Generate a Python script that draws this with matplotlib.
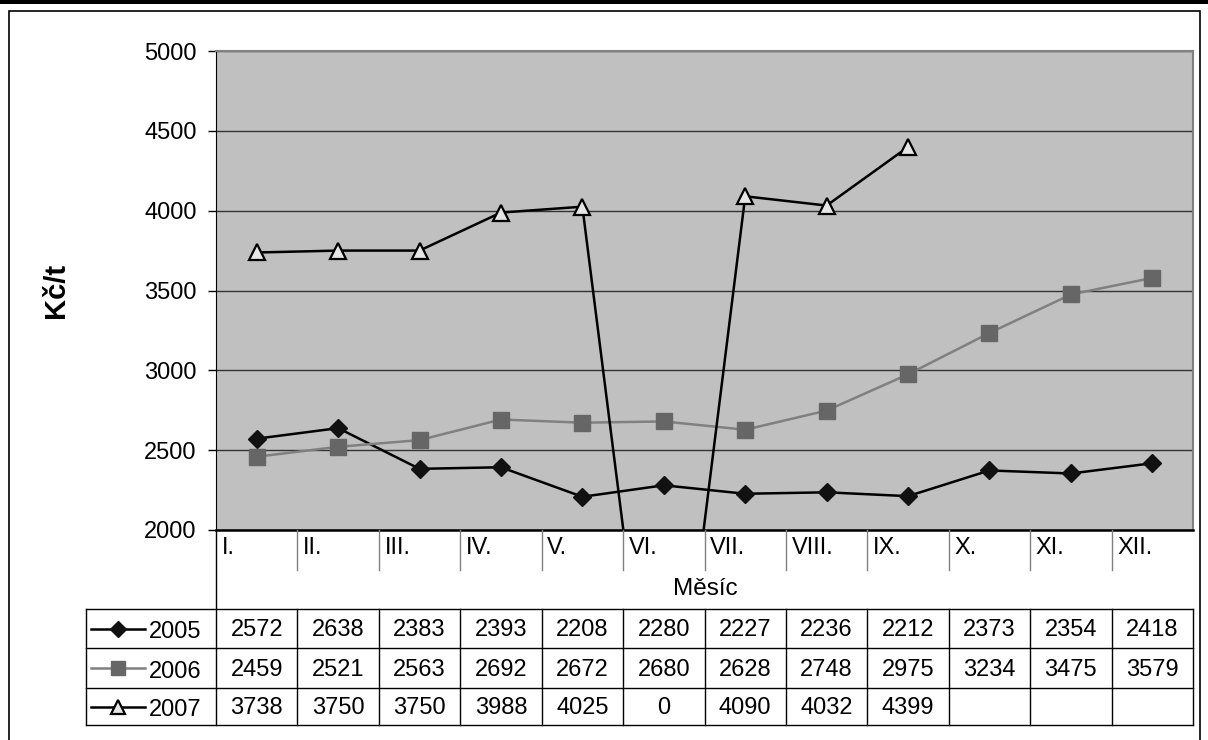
import matplotlib.pyplot as plt
import numpy as np
from matplotlib.lines import Line2D
from matplotlib.transforms import blended_transform_factory

plt.rcParams['font.family'] = ['Liberation Sans', 'DejaVu Sans']

months = ['I.', 'II.', 'III.', 'IV.', 'V.', 'VI.', 'VII.', 'VIII.', 'IX.', 'X.', 'XI.', 'XII.']
years = ['2005', '2006', '2007']
v2005 = [2572, 2638, 2383, 2393, 2208, 2280, 2227, 2236, 2212, 2373, 2354, 2418]
v2006 = [2459, 2521, 2563, 2692, 2672, 2680, 2628, 2748, 2975, 3234, 3475, 3579]
v2007 = [3738, 3750, 3750, 3988, 4025, 0, 4090, 4032, 4399]

W, H = 1208, 740
fig = plt.figure(figsize=(W / 100, H / 100), dpi=100)
FS = 17

def fx(px):
    return px / W

def fy(py):
    return 1 - py / H

# outer frame
fig.add_artist(plt.Rectangle((fx(0), fy(4)), 1, 4 / H, transform=fig.transFigure,
                             color='black', lw=0))
fig.add_artist(plt.Rectangle((fx(9), fy(760)), fx(1200) - fx(9), fy(11) - fy(760),
                             transform=fig.transFigure, fill=False, ec='black', lw=1.2))

left, right, top, bottom = 216, 1193, 51, 530
ax = fig.add_axes([fx(left), fy(bottom), fx(right) - fx(left), fy(top) - fy(bottom)])
ax.set_facecolor('#c0c0c0')
x = np.arange(len(months))

styles = [
    dict(color='black', marker='D', ms=9, mfc='#111111', mec='#111111'),
    dict(color='#808080', marker='s', ms=11, mfc='#666666', mec='#666666'),
    dict(color='black', marker='^', ms=11, mfc='#e6e6e6', mec='black', mew=1.6),
]
series = [v2005, v2006, v2007]
for vals, st in zip(series, styles):
    ax.plot(x[:len(vals)], vals, lw=1.8, zorder=3, **st)

ax.set_xlim(-0.5, len(months) - 0.5)
ax.set_ylim(2000, 5000)
ax.set_yticks(np.arange(2000, 5001, 500))
ax.yaxis.grid(True, color='#333333', lw=1)
ax.set_axisbelow(True)
ax.set_xticks([])
ax.tick_params(axis='y', labelsize=FS, length=6, width=1, pad=8)
for s in ['top', 'right']:
    ax.spines[s].set_color('#808080')
    ax.spines[s].set_linewidth(1.5)
ax.spines['left'].set_color('black')
ax.spines['bottom'].set_linewidth(1.8)

fig.text(fx(56), fy(290), 'Kč/t', rotation=90, fontsize=21, fontweight='bold',
         ha='center', va='center')

# category row and data table
tr = blended_transform_factory(ax.transData, fig.transFigure)
for i in range(1, len(months)):
    fig.add_artist(Line2D([i - 0.5, i - 0.5], [fy(530), fy(570)], transform=tr,
                          color='#808080', lw=1))
for i, m in enumerate(months):
    fig.text(i - 0.43, fy(548), m, transform=tr, fontsize=FS, ha='left', va='center')
fig.text(fx(705), fy(589), 'Měsíc', fontsize=17.5, ha='center', va='center')

rows_y = [609, 648, 688, 725]
for ry in rows_y:
    fig.add_artist(Line2D([fx(86), fx(right)], [fy(ry), fy(ry)], transform=fig.transFigure,
                          color='black', lw=1))
fig.add_artist(Line2D([fx(86), fx(86)], [fy(609), fy(725)], transform=fig.transFigure,
                      color='black', lw=1))
fig.add_artist(Line2D([fx(left), fx(left)], [fy(530), fy(725)], transform=fig.transFigure,
                      color='black', lw=1))
for i in range(1, len(months) + 1):
    fig.add_artist(Line2D([i - 0.5, i - 0.5], [fy(609), fy(725)], transform=tr,
                          color='black', lw=1))

for r, (yr, vals, st) in enumerate(zip(years, series, styles)):
    cy = (rows_y[r] + rows_y[r + 1]) / 2
    key = dict(st)
    key['ms'] = st['ms'] - 1
    fig.add_artist(Line2D([fx(91), fx(118), fx(145)], [fy(cy)] * 3,
                          transform=fig.transFigure, lw=1.8, markevery=[1], **key))
    fig.text(fx(149), fy(cy + 4), yr, fontsize=FS, ha='left', va='center')
    for i, v in enumerate(vals):
        fig.text(i, fy(cy + 2), str(v), transform=tr, fontsize=FS, ha='center', va='center')

fig.savefig('out.png', dpi=100)
